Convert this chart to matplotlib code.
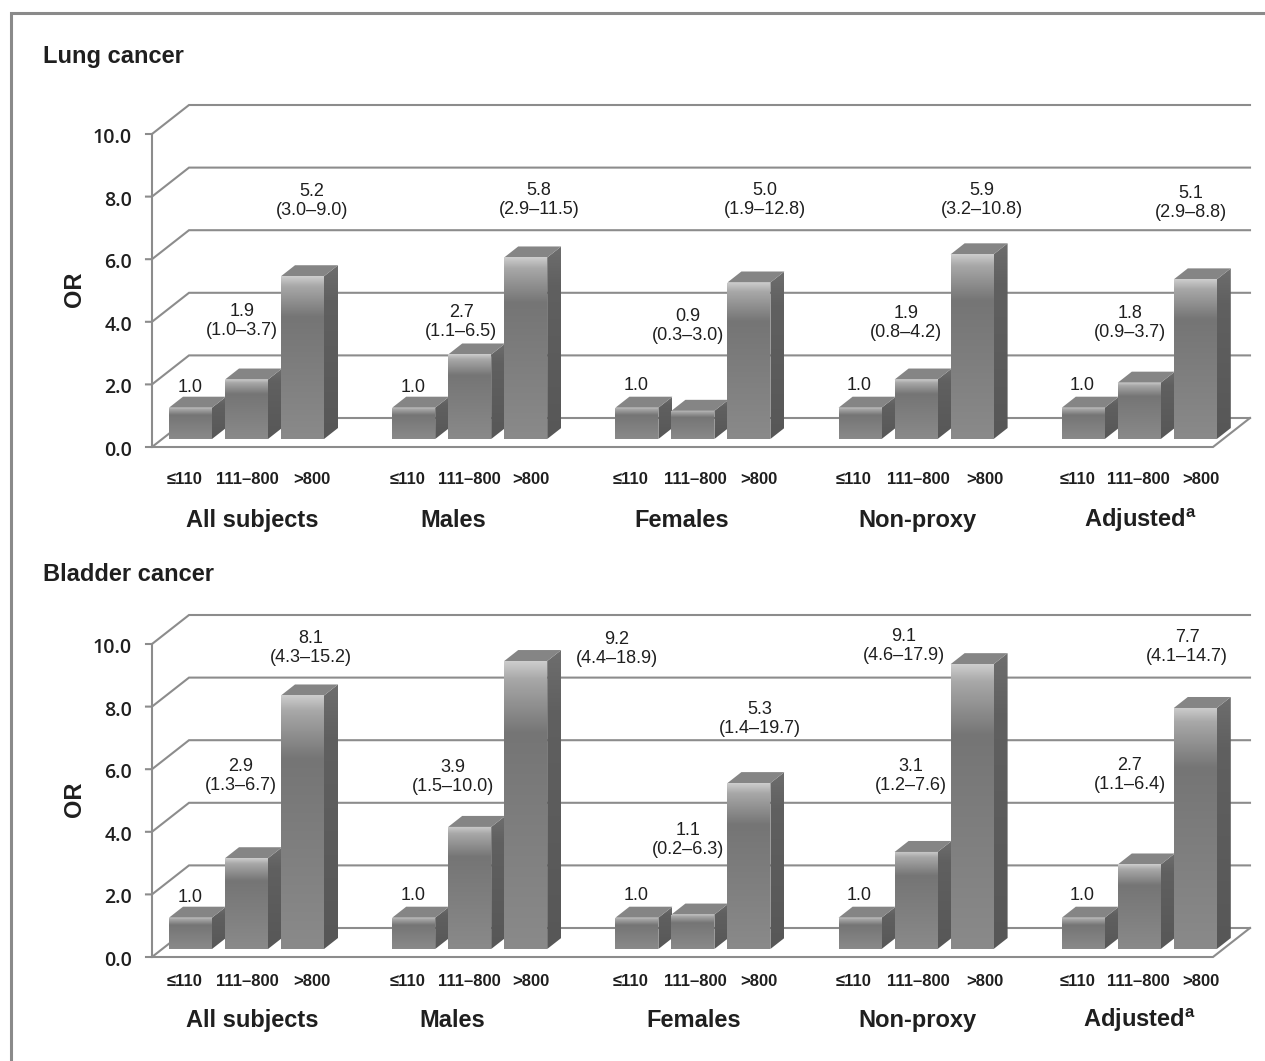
"""Odds ratios for lung and bladder cancer, drawn as faux-3D bars."""

import matplotlib

matplotlib.use("Agg")
import matplotlib.pyplot as plt
import numpy as np
from matplotlib.colors import LinearSegmentedColormap
from matplotlib.patches import Polygon

W, H = 1265, 1061

GROUPS = ["All subjects", "Males", "Females", "Non-proxy", "Adjusted$^{\\mathbf{a}}$"]
DOSES = ["≤110", "111–800", ">800"]
Y_TICKS = [0, 2, 4, 6, 8, 10]

LUNG_OR = [[1.0, 1.9, 5.2], [1.0, 2.7, 5.8], [1.0, 0.9, 5.0], [1.0, 1.9, 5.9], [1.0, 1.8, 5.1]]
LUNG_CI = [
    ["", "(1.0–3.7)", "(3.0–9.0)"],
    ["", "(1.1–6.5)", "(2.9–11.5)"],
    ["", "(0.3–3.0)", "(1.9–12.8)"],
    ["", "(0.8–4.2)", "(3.2–10.8)"],
    ["", "(0.9–3.7)", "(2.9–8.8)"],
]
BLADDER_OR = [[1.0, 2.9, 8.1], [1.0, 3.9, 9.2], [1.0, 1.1, 5.3], [1.0, 3.1, 9.1], [1.0, 2.7, 7.7]]
BLADDER_CI = [
    ["", "(1.3–6.7)", "(4.3–15.2)"],
    ["", "(1.5–10.0)", "(4.4–18.9)"],
    ["", "(0.2–6.3)", "(1.4–19.7)"],
    ["", "(1.2–7.6)", "(4.6–17.9)"],
    ["", "(1.1–6.4)", "(4.1–14.7)"],
]

# label centres in image pixels, kept apart from the values
LUNG_LABEL_POS = [
    [(190, 387), (242, 321), (312, 201)],
    [(413, 387), (461, 322), (539, 200)],
    [(636, 386), (688, 326), (765, 200)],
    [(859, 386), (906, 323), (982, 200)],
    [(1082, 386), (1130, 323), (1191, 203)],
]
BLADDER_LABEL_POS = [
    [(190, 897), (241, 776), (311, 648)],
    [(413, 895), (453, 777), (617, 649)],
    [(636, 896), (688, 840), (760, 719)],
    [(859, 896), (911, 776), (904, 646)],
    [(1082, 896), (1130, 775), (1187, 647)],
]
DOSE_X = [
    [185, 247, 312],
    [408, 469, 531],
    [631, 695, 759],
    [854, 918, 985],
    [1078, 1138, 1201],
]
LUNG_GROUP_X = [252, 453, 682, 917, 1140]
BLADDER_GROUP_X = [252, 452, 694, 917, 1139]

PX_PER_UNIT = 31.3
AXIS_X = 152
FLOOR_END_X = 1213
WALL_DX, WALL_DY = 37, 29
BAR_LIFT = 8
BAR_DX, BAR_DY = 14, 11
BAR_W = 43
FIRST_BAR_X = 169
GROUP_STEP = 223.2
BAR_STEP = 56
LINE = "#8c8c8c"
TEXT = "#1f1f1f"

FRONT = LinearSegmentedColormap.from_list(
    "front", [(0, "#cdcdcd"), (0.06, "#a8a8a8"), (0.25, "#757575"), (1, "#8a8a8a")]
)
SIDE = LinearSegmentedColormap.from_list("side", [(0, "#6e6e6e"), (0.2, "#606060"), (1, "#575757")])

plt.rcParams.update(
    {
        "font.family": "Liberation Sans",
        "mathtext.fontset": "custom",
        "mathtext.bf": "Liberation Sans:bold",
        "mathtext.rm": "Liberation Sans",
    }
)

fig = plt.figure(figsize=(W / 100, H / 100), dpi=100)
fig.patch.set_facecolor("white")


def px_text(x, y, s, **kw):
    kw.setdefault("ha", "center")
    kw.setdefault("va", "center")
    kw.setdefault("color", TEXT)
    return fig.text(x / W, 1 - y / H, s, **kw)


def shaded(ax, poly, cmap):
    # vertical gradient clipped to the outline of one bar face
    ys = poly[:, 1]
    grad = np.linspace(0, 1, 256)[:, None]
    image = ax.imshow(
        grad,
        cmap=cmap,
        aspect="auto",
        origin="upper",
        extent=(poly[:, 0].min(), poly[:, 0].max(), ys.min(), ys.max()),
        vmin=0,
        vmax=1,
        zorder=3,
    )
    image.set_clip_path(Polygon(poly, closed=True, transform=ax.transData))


def draw_panel(odds, ci, label_pos, zero_y, title, title_y, dose_y, group_y, group_x):
    top_px, bottom_px = zero_y - 350, zero_y + 10
    ax = fig.add_axes([0, 1 - bottom_px / H, 1, (bottom_px - top_px) / H])
    ax.set_xlim(0, W)
    ylim = ((zero_y - bottom_px) / PX_PER_UNIT, (zero_y - top_px) / PX_PER_UNIT)
    ax.axis("off")

    wall_dy = WALL_DY / PX_PER_UNIT
    bar_dy = BAR_DY / PX_PER_UNIT
    lift = BAR_LIFT / PX_PER_UNIT

    for tick in Y_TICKS:
        back = tick + wall_dy
        ax.plot(
            [AXIS_X - 6, AXIS_X, AXIS_X + WALL_DX, 1250],
            [tick, tick, back, back],
            color=LINE,
            lw=1.5,
            zorder=1,
            solid_joinstyle="miter",
        )
        px_text(132, zero_y - tick * PX_PER_UNIT + 4, f"{tick:.1f}", ha="right", fontsize=14,
                family="Open Sans", fontweight="semibold")
    ax.plot([AXIS_X, AXIS_X], [0, Y_TICKS[-1]], color=LINE, lw=1.5, zorder=1)
    ax.plot(
        [AXIS_X, FLOOR_END_X, FLOOR_END_X + WALL_DX],
        [0, 0, wall_dy],
        color=LINE,
        lw=1.5,
        zorder=1,
        solid_joinstyle="miter",
    )

    for g, values in enumerate(odds):
        for s, value in enumerate(values):
            x0 = FIRST_BAR_X + g * GROUP_STEP + s * BAR_STEP
            x1 = x0 + BAR_W
            top = lift + value
            front = np.array([[x0, lift], [x1, lift], [x1, top], [x0, top]])
            side = np.array(
                [[x1, lift], [x1 + BAR_DX, lift + bar_dy], [x1 + BAR_DX, top + bar_dy], [x1, top]]
            )
            roof = np.array(
                [[x0, top], [x1, top], [x1 + BAR_DX, top + bar_dy], [x0 + BAR_DX, top + bar_dy]]
            )
            shaded(ax, side, SIDE)
            ax.add_patch(Polygon(roof, closed=True, fc="#858585", ec="none", zorder=3))
            shaded(ax, front, FRONT)

            text = f"{value:.1f}" + (f"\n{ci[g][s]}" if ci[g][s] else "")
            px, py = label_pos[g][s]
            px_text(px, py, text, fontsize=13, linespacing=1.2, zorder=5)
            px_text(DOSE_X[g][s], dose_y, DOSES[s], fontsize=12, fontweight="bold")
        px_text(group_x[g], group_y, GROUPS[g], fontsize=17, fontweight="bold", va="baseline")

    ax.set_xlim(0, W)
    ax.set_ylim(*ylim)

    px_text(43, title_y, title, ha="left", fontsize=17, fontweight="bold", va="baseline")
    px_text(74, zero_y - 158, "OR", rotation=90, fontsize=17, fontweight="bold")


draw_panel(LUNG_OR, LUNG_CI, LUNG_LABEL_POS, 447, "Lung cancer", 63, 480, 527, LUNG_GROUP_X)
draw_panel(BLADDER_OR, BLADDER_CI, BLADDER_LABEL_POS, 957, "Bladder cancer", 581, 982, 1027, BLADDER_GROUP_X)

# outer frame, open at the right and bottom edges of the image
frame = fig.add_axes([0, 0, 1, 1], facecolor="none")
frame.set_xlim(0, W)
frame.set_ylim(H, 0)
frame.axis("off")
frame.plot([11, 11, W], [H, 13, 13], color="#8a8a8a", lw=2.2, solid_joinstyle="miter")

fig.savefig("out.png", dpi=100, facecolor="white")
plt.close(fig)
